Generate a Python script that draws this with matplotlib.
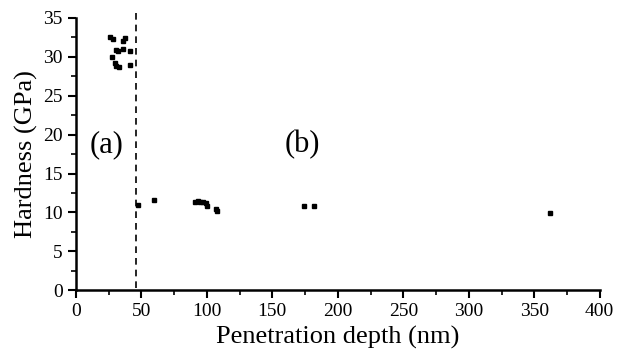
import numpy as np
import matplotlib.pyplot as plt
from matplotlib.ticker import MultipleLocator

plt.rcParams['font.family'] = ['Liberation Serif', 'DejaVu Serif']

# region (a): shallow indents
depth_a = [26, 28, 35.9, 37.4, 30.5, 32, 35.9, 41.5, 27.3, 29.8, 31, 32.8, 41.5]
hard_a = [32.6, 32.3, 32.0, 32.4, 30.9, 30.7, 31.0, 30.8, 30.0, 29.2, 28.8, 28.7, 29.0]

# region (b): deeper indents
depth_b = [47.6, 59.5, 91, 93, 95, 97, 99, 100, 107, 108, 174, 182, 362]
hard_b = [10.9, 11.6, 11.3, 11.5, 11.4, 11.3, 11.2, 10.8, 10.4, 10.2, 10.8, 10.8, 9.9]

boundary = 46.0

fig = plt.figure(figsize=(6.17, 3.6), dpi=100)
ax = fig.add_axes([0.123, 0.194, 0.849, 0.756])

ax.plot(depth_a, hard_a, 's', color='black', markersize=3)
ax.plot(depth_b, hard_b, 's', color='black', markersize=3)
# dashed boundary, runs a bit past the top of the axis like the original
ax.plot([boundary, boundary], [0.3, 35.8], color='black', linestyle='--',
        linewidth=1.2, dashes=(4, 3), clip_on=False)

ax.text(23.5, 18.7, '(a)', fontsize=22, ha='center', va='center')
ax.text(173, 18.7, '(b)', fontsize=22, ha='center', va='center')

ax.set_xlim(0, 400)
ax.set_ylim(0, 35)
ax.xaxis.set_major_locator(MultipleLocator(50))
ax.xaxis.set_minor_locator(MultipleLocator(25))
ax.yaxis.set_major_locator(MultipleLocator(5))
ax.yaxis.set_minor_locator(MultipleLocator(2.5))
ax.tick_params(which='major', direction='out', length=6, width=1.5, labelsize=14)
ax.tick_params(which='minor', direction='out', length=3.5, width=1.2)

for side in ['top', 'right']:
    ax.spines[side].set_visible(False)
for side in ['left', 'bottom']:
    ax.spines[side].set_linewidth(1.8)

ax.set_xlabel('Penetration depth (nm)', fontsize=19, labelpad=4)
ax.set_ylabel('Hardness (GPa)', fontsize=19, labelpad=4)

fig.savefig('out.png', dpi=100)
